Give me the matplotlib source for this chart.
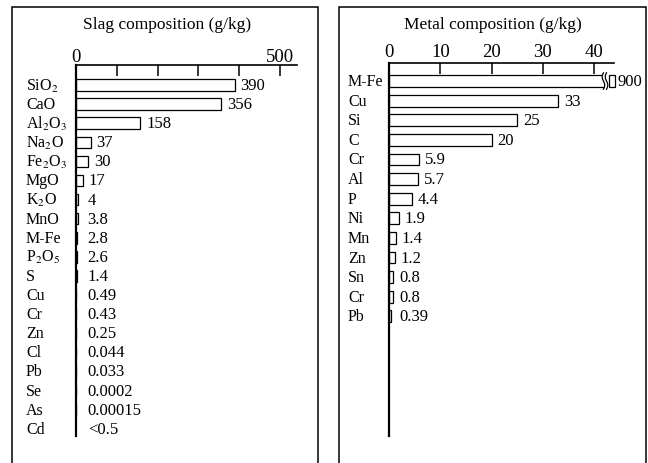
import matplotlib.pyplot as plt
import numpy as np
from matplotlib.patches import Rectangle
from matplotlib.transforms import blended_transform_factory

plt.rcParams['font.family'] = ['Liberation Serif', 'DejaVu Serif']
plt.rcParams['mathtext.fontset'] = 'stix'

# slag composition (g/kg)
slag_names = ['SiO$_2$', 'CaO', 'Al$_2$O$_3$', 'Na$_2$O', 'Fe$_2$O$_3$', 'MgO', 'K$_2$O',
              'MnO', 'M-Fe', 'P$_2$O$_5$', 'S', 'Cu', 'Cr', 'Zn', 'Cl', 'Pb', 'Se', 'As', 'Cd']
slag_values = [390, 356, 158, 37, 30, 17, 4, 3.8, 2.8, 2.6, 1.4, 0.49, 0.43, 0.25,
               0.044, 0.033, 0.0002, 0.00015, np.nan]
slag_text = ['390', '356', '158', '37', '30', '17', '4', '3.8', '2.8', '2.6', '1.4', '0.49',
             '0.43', '0.25', '0.044', '0.033', '0.0002', '0.00015', '<0.5']
slag_ticks = [0, 100, 200, 300, 400, 500]
slag_ticklabels = ['0', '', '', '', '', '500']

# metal composition (g/kg)
metal_names = ['M-Fe', 'Cu', 'Si', 'C', 'Cr', 'Al', 'P', 'Ni', 'Mn', 'Zn', 'Sn', 'Cr', 'Pb']
metal_values = [900, 33, 25, 20, 5.9, 5.7, 4.4, 1.9, 1.4, 1.2, 0.8, 0.8, 0.39]
metal_text = ['900', '33', '25', '20', '5.9', '5.7', '4.4', '1.9', '1.4', '1.2', '0.8', '0.8', '0.39']
metal_ticks = [0, 10, 20, 30, 40]

W, H = 648, 464
fig = plt.figure(figsize=(6.48, 4.64), dpi=100)


def px_axes(x0, x1, ytop, ybot):
    return fig.add_axes([x0 / W, (H - ybot) / H, (x1 - x0) / W, (ybot - ytop) / H])


def style(ax):
    for s in ['right', 'bottom']:
        ax.spines[s].set_visible(False)
    ax.spines['left'].set_linewidth(1.6)
    ax.spines['top'].set_linewidth(1.2)
    ax.xaxis.tick_top()
    ax.set_yticks([])
    ax.patch.set_alpha(0)


# frames
for x0, x1 in [(12, 318), (339, 646)]:
    fig.patches.append(Rectangle((x0 / W, -0.05), (x1 - x0) / W, (H - 8) / H + 0.05,
                                 transform=fig.transFigure, fill=False, lw=1.1,
                                 edgecolor='black'))

fig.text(167 / W, 1 - 25 / H, 'Slag composition (g/kg)', ha='center', va='center', fontsize=12.5)
fig.text(493 / W, 1 - 25 / H, 'Metal composition (g/kg)', ha='center', va='center', fontsize=12.5)

# ---- slag panel
ax1 = px_axes(76, 297, 66, 437)
style(ax1)
ax1.set_xlim(0, 221 / 0.408)
ax1.set_ylim(18.38, -1.047)
y1 = np.arange(len(slag_names))
sv = np.array(slag_values, dtype=float)
ok = ~np.isnan(sv)
ax1.barh(y1[ok], sv[ok], height=0.6, color='white', edgecolor='black', linewidth=0.9)
ax1.set_xticks(slag_ticks)
ax1.set_xticklabels(slag_ticklabels)
ax1.tick_params(axis='x', direction='in', length=8, width=1.1, pad=0, labelsize=13.5)
tr1 = blended_transform_factory(fig.transFigure, ax1.transData)
for i, name in enumerate(slag_names):
    ax1.text(26 / W, i, name, transform=tr1, ha='left', va='center', fontsize=11.5)
    v = 0 if np.isnan(sv[i]) else sv[i]
    ax1.annotate(slag_text[i], (max(v, 15), i), xytext=(4, 0), textcoords='offset points',
                 ha='left', va='center', fontsize=12, annotation_clip=False)

# ---- metal panel
ax2 = px_axes(389, 614, 64, 437)
style(ax2)
ax2.set_xlim(0, 225 / 5.13)
ax2.set_ylim(18.1, -0.92)
y2 = np.arange(len(metal_names))
brk = 42.0
mv = np.array(metal_values, dtype=float)
big = mv > ax2.get_xlim()[1]
ax2.barh(y2[~big], mv[~big], height=0.6, color='white', edgecolor='black', linewidth=0.9)
ax2.barh(y2[big], brk + 0.1, height=0.6, color='white', edgecolor='black', linewidth=0.9)
tail = brk + 0.8
ax2.barh(y2[big], 1.2, left=tail, height=0.6, color='white', edgecolor='black',
         linewidth=0.9, clip_on=False)
for yb in y2[big]:
    ys = np.linspace(-0.42, 0.42, 30)
    wave = 0.25 * np.sin(ys / 0.42 * np.pi)
    c1 = brk - 0.2 + wave
    c2 = brk + 0.4 + wave
    ax2.fill_betweenx(yb + ys, c1, c2, color='white', zorder=3, clip_on=False)
    ax2.plot(c1, yb + ys, color='black', lw=0.9, zorder=4, clip_on=False)
    ax2.plot(c2, yb + ys, color='black', lw=0.9, zorder=4, clip_on=False)
ax2.set_xticks(metal_ticks)
ax2.tick_params(axis='x', direction='in', length=8, width=1.1, pad=2, labelsize=13.5)
tr2 = blended_transform_factory(fig.transFigure, ax2.transData)
for i, name in enumerate(metal_names):
    ax2.text(348 / W, i, name, transform=tr2, ha='left', va='center', fontsize=11.5)
    end = tail + 1.2 if big[i] else max(mv[i], 1.0)
    ax2.annotate(metal_text[i], (end, i), xytext=(2 if big[i] else 4, 0),
                 textcoords='offset points', ha='left', va='center', fontsize=12,
                 annotation_clip=False)

fig.savefig('out.png', dpi=100)
